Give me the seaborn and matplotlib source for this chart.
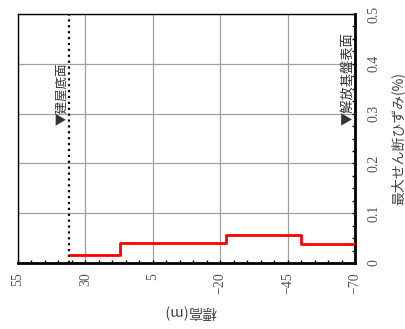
import numpy as np
import pandas as pd
import matplotlib
matplotlib.use("Agg")
import matplotlib.pyplot as plt
import seaborn as sns

# --- data ---
layer_top = [36.2, 17.0, -22.0, -50.0, -70.0]   # elevation boundaries (m)
max_strain = [0.0155, 0.040, 0.0557, 0.038]     # max shear strain (%) per layer
elev_ticks = [55, 30, 5, -20, -45, -70]
strain_ticks = [0, 0.1, 0.2, 0.3, 0.4, 0.5]
building_base = 36.2
bedrock_top = -70.0

sns.set_style("white")
plt.rcParams["font.family"] = ["Liberation Serif", "Noto Sans CJK JP", "DejaVu Sans"]
jp = ["Noto Sans CJK JP", "DejaVu Sans"]

# step profile (repeat last value for steps-post)
df = pd.DataFrame({
    "elev": layer_top,
    "strain": max_strain + [max_strain[-1]],
})

fig = plt.figure(figsize=(4.06, 3.29), dpi=100)
ax = fig.add_axes([18 / 406, 66 / 329, 337 / 406, 249 / 329])

sns.lineplot(data=df, x="elev", y="strain", sort=False, estimator=None,
             drawstyle="steps-post", color="#ff0000", lw=2, ax=ax, zorder=3)

ax.axvline(building_base, color="black", ls=":", lw=1.6, zorder=4)

ax.set_xlim(55, -70)
ax.set_ylim(0, 0.5)
ax.set_xticks(elev_ticks)
ax.set_xticks(np.arange(-70, 56, 5), minor=True)
ax.set_yticks(strain_ticks)
ax.set_yticks(np.arange(0, 0.501, 0.025), minor=True)
ax.set_xticklabels([str(v).replace("-", "\u2212") for v in elev_ticks], rotation=90)
ax.set_yticklabels([f"{v:g}" for v in strain_ticks], rotation=90, va="center")
ax.yaxis.tick_right()

ax.grid(True, which="major", color="#a0a0a0", lw=0.9)
ax.tick_params(axis="x", which="both", direction="in", length=2.5, width=1,
               bottom=True, top=False, labelsize=10, pad=7, colors="black")
ax.tick_params(axis="y", which="both", direction="in", length=2.5, width=1,
               right=True, left=False, labelsize=10, pad=9, colors="black")
for lbl in ax.get_xticklabels() + ax.get_yticklabels():
    lbl.set_color("#555555")

for side, w in [("top", 1.0), ("left", 1.0), ("bottom", 2.0), ("right", 2.0)]:
    ax.spines[side].set_visible(True)
    ax.spines[side].set_color("black")
    ax.spines[side].set_linewidth(w)

ax.set_xlabel("標高(m)", rotation=180, family=jp, fontsize=10.5, color="#444444", va="center")
ax.xaxis.set_label_coords(0.51, -0.197)
ax.set_ylabel("最大せん断ひずみ(%)", rotation=90, family=jp, fontsize=10, color="#444444", va="center")
ax.yaxis.set_label_position("right")
ax.yaxis.set_label_coords(1.105, 0.5)

ax.text(building_base, 0.277, "▼建屋底面", rotation=90, family=jp, fontsize=9,
        ha="right", va="bottom", color="#333333", zorder=5)
ax.text(bedrock_top, 0.277, "▼解放基盤表面", rotation=90, family=jp, fontsize=9.5,
        ha="right", va="bottom", color="#333333", zorder=5)

fig.savefig("out.png", dpi=100)
